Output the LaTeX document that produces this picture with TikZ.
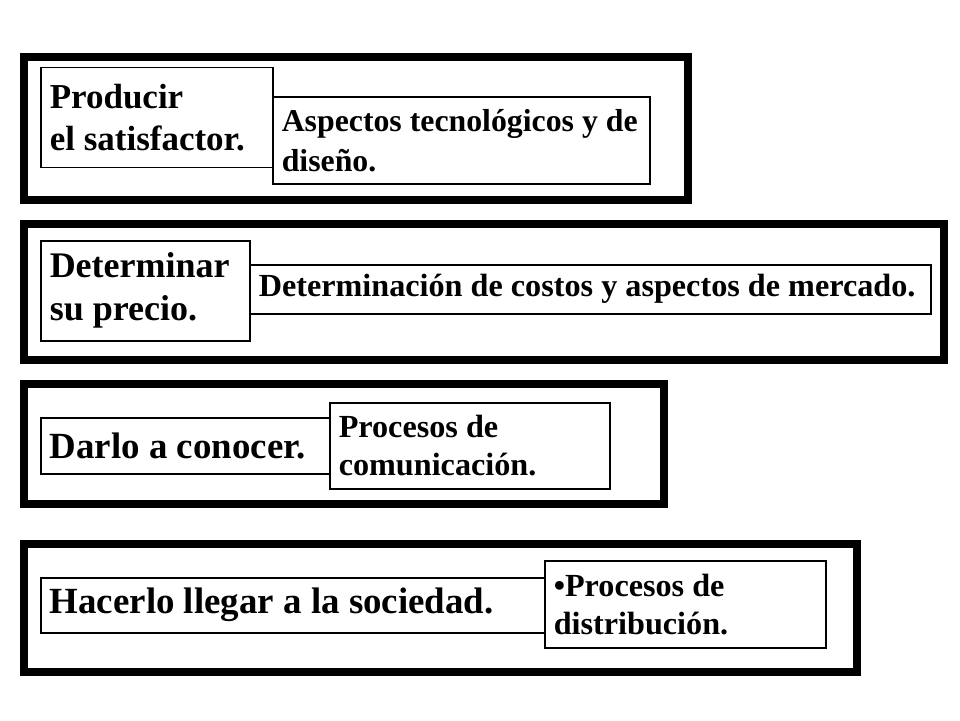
\documentclass[tikz,border=0pt]{standalone}
\usepackage{fontspec}
\setmainfont{Liberation Serif}
\usetikzlibrary{positioning}

\tikzset{
  frame/.style={line width=8pt},
  bigtxt/.style={draw, line width=1.5pt, fill=white, anchor=north west,
    inner xsep=9pt, inner ysep=0pt, align=left,
    execute at begin node={\spaceskip=0pt\xspaceskip=0pt\relax},
    font=\fontsize{36.9}{43}\selectfont\bfseries},
  smalltxt/.style={bigtxt, font=\fontsize{32.2}{38}\selectfont\bfseries}
}

\begin{document}
\begin{tikzpicture}[x=1pt, y=-1pt]

\useasboundingbox (0,0) rectangle (960,720);

\draw [frame] (24,56.5) rectangle (688,199.5);
\draw [frame] (24,224) rectangle (944,359.5);
\draw [frame] (24,383.5) rectangle (664,503.5);
\draw [frame] (24,543.5) rectangle (857,672);

\node [bigtxt, text width=214pt, minimum height=100pt, font=\fontsize{35}{42}\selectfont\bfseries] (produce) at (40,66.5) {Producir\\el satisfactor.};
\node [smalltxt, text width=359pt, minimum height=87pt, font=\fontsize{31.8}{40}\selectfont\bfseries] (design) at (272,96) {Aspectos tecnológicos y de\\diseño.};

\node [bigtxt, text width=191pt, minimum height=100pt, font=\fontsize{36}{43}\selectfont\bfseries] (price) at (40,240) {Determinar\\su precio.};
\node [smalltxt, text width=663pt, minimum height=49pt] (costs) at (249,264) {Determinación de costos y aspectos de mercado.};

\node [bigtxt, text width=271pt, minimum height=56pt] (promote) at (40,417) {Darlo a conocer.};
\node [smalltxt, text width=262pt, minimum height=86pt] (comms) at (329,402) {Procesos de\\comunicación.};

\node [bigtxt, text width=486pt, minimum height=55pt] (deliver) at (40,577) {Hacerlo llegar a la sociedad.};
\node [smalltxt, text width=263pt, minimum height=87pt] (distrib) at (544,560) {•Procesos de\\distribución.};

\end{tikzpicture}
\end{document}
